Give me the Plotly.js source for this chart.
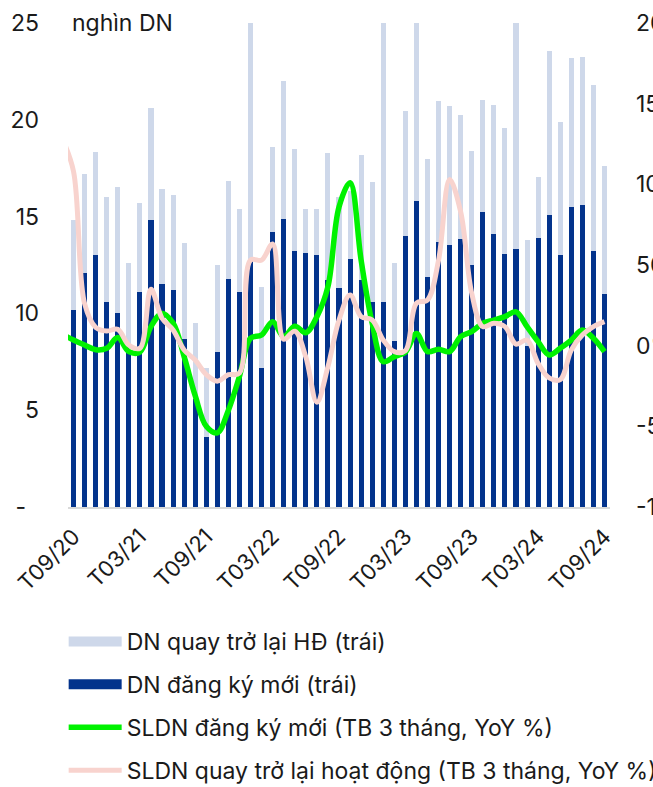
<!DOCTYPE html>
<html>
<head>
<meta charset="utf-8">
<script src="https://cdn.plot.ly/plotly-3.0.1.min.js"></script>
<style>
  html, body { margin: 0; padding: 0; background: #ffffff; overflow: hidden; }
  #chart { width: 653px; height: 787px; }
</style>
</head>
<body>
<div id="chart"></div>
<script>
// Months (T08/20 only carries the 3-month YoY lines, it sits just left of the plot)
const months = [
  'T08/20','T09/20','T10/20','T11/20','T12/20',
  'T01/21','T02/21','T03/21','T04/21','T05/21','T06/21','T07/21','T08/21','T09/21','T10/21','T11/21','T12/21',
  'T01/22','T02/22','T03/22','T04/22','T05/22','T06/22','T07/22','T08/22','T09/22','T10/22','T11/22','T12/22',
  'T01/23','T02/23','T03/23','T04/23','T05/23','T06/23','T07/23','T08/23','T09/23','T10/23','T11/23','T12/23',
  'T01/24','T02/24','T03/24','T04/24','T05/24','T06/24','T07/24','T08/24','T09/24'
];

// DN đăng ký mới (nghìn DN)
const newFirms = [
  null, 10.2, 12.1, 13.0, 10.6,
  10.0, 8.0, 11.1, 14.8, 11.5, 11.2, 8.7, 5.6, 3.6, 8.0, 11.8, 11.1,
  12.8, 7.2, 14.2, 14.9, 13.2, 13.1, 13.0, 11.7, 11.3, 12.8, 11.7, 10.6,
  10.6, 8.6, 14.0, 15.8, 11.9, 13.7, 13.55, 13.85, 12.5, 15.25, 14.1, 13.05,
  13.35, 8.3, 13.9, 15.1, 13.0, 15.5, 15.6, 13.2, 11.0
];

// DN quay trở lại HĐ (nghìn DN), stacked on top
const returningFirms = [
  null, 4.6, 5.1, 5.35, 5.4,
  6.55, 4.6, 4.6, 5.8, 4.95, 4.9, 4.95, 3.9, 3.6, 4.5, 5.05, 4.3,
  12.8, 4.15, 4.4, 7.1, 5.3, 2.3, 2.4, 6.6, 4.7, 3.5, 6.5, 6.2,
  15.0, 4.0, 6.45, 9.8, 6.1, 7.25, 7.15, 6.4, 5.9, 5.75, 6.65, 6.55,
  12.25, 5.5, 3.15, 8.45, 6.9, 7.7, 7.65, 8.6, 6.6
];

// SLDN đăng ký mới (TB 3 tháng, YoY %)
const newYoY = [
  7, 3.5, 0.4, -2.5, -1.6,
  5, -3.7, -4, 11.8, 20, 14, -6.8, -31, -50, -54, -40, -19,
  4.6, 6.6, 14.9, 5.6, 12, 8, 18, 36.6, 86, 101, 53, 13.9,
  -9.9, -6.8, -4, 7.6, -3.7, -2.2, -3.7, 5.6, 8.7, 13.9, 15.9, 18,
  21, 11.8, 2.5, -5.8, -1.6, 3.5, 9.7, 4.6, -3.7
];

// SLDN quay trở lại hoạt động (TB 3 tháng, YoY %)
const returningYoY = [
  128, 108, 26, 11.4, 9.1,
  10.1, 0.4, -1.6, 35, 17, 9.7, -2.7, -8.9, -18, -22, -18, -17,
  53, 53, 63, 4, 9, -7, -35, -13, 15.9, 31.4, 18, 15.9,
  3.5, -3.7, -3, 26.3, 28.3, 53, 103, 83, 32.5, 11.8, 13.9, 11.8,
  1, 3.5, -11, -20, -21, -2.7, 6.6, 11.8, 14.9
];

const xTicks = ['T09/20','T03/21','T09/21','T03/22','T09/22','T03/23','T09/23','T03/24','T09/24'];
const leftTickVals = [0, 5, 10, 15, 20, 25];
const leftTickText = ['-\u00a0\u00a0', '5', '10', '15', '20', '25'];
const rightTickVals = [-100, -50, 0, 50, 100, 150, 200];
const rightTickText = ['-100%', '-50%', '0%', '50%', '100%', '150%', '200%'];

const FONT = 'Inter, "Noto Sans", Arial, sans-serif';
const TXT = '#1a1a1a';
const C_NEW = '#03338C';
const C_RET = '#CED8EA';
const C_GREEN = '#00F200';
const C_PINK = '#F8D3CE';

const traces = [
  {
    type: 'bar', x: months, y: newFirms, name: 'DN đăng ký mới (trái)',
    marker: { color: C_NEW }, showlegend: false
  },
  {
    type: 'bar', x: months, y: returningFirms, name: 'DN quay trở lại HĐ (trái)',
    marker: { color: C_RET }, showlegend: false
  },
  {
    type: 'scatter', mode: 'lines', x: months, y: newYoY, yaxis: 'y2',
    name: 'SLDN đăng ký mới (TB 3 tháng, YoY %)',
    line: { color: C_GREEN, width: 5.5, shape: 'spline', smoothing: 1 },
    legendgroup: 'c', legendrank: 3
  },
  {
    type: 'scatter', mode: 'lines', x: months, y: returningYoY, yaxis: 'y2',
    name: 'SLDN quay trở lại hoạt động (TB 3 tháng, YoY %)',
    line: { color: C_PINK, width: 5, shape: 'spline', smoothing: 1 },
    legendgroup: 'd', legendrank: 4
  },
  // legend swatches for the two bar series (wide blocks as in the reference)
  {
    type: 'scatter', mode: 'lines', x: [null], y: [null],
    name: 'DN quay trở lại HĐ (trái)',
    line: { color: C_RET, width: 17 }, legendgroup: 'a', legendrank: 1
  },
  {
    type: 'scatter', mode: 'lines', x: [null], y: [null],
    name: 'DN đăng ký mới (trái)',
    line: { color: C_NEW, width: 17 }, legendgroup: 'b', legendrank: 2
  }
];

const layout = {
  width: 653, height: 787,
  margin: { l: 68, r: 43, t: 23, b: 280, pad: 0, autoexpand: false },
  paper_bgcolor: '#ffffff', plot_bgcolor: '#ffffff',
  font: { family: FONT, size: 23, color: TXT },
  barmode: 'stack', bargap: 0.54,
  showlegend: true,
  legend: {
    x: -0.008, y: -0.2335, xanchor: 'left', yanchor: 'top',
    traceorder: 'grouped', tracegroupgap: 10, itemwidth: 53,
    font: { family: FONT, size: 23, color: TXT },
    bgcolor: 'rgba(0,0,0,0)'
  },
  xaxis: {
    type: 'category', categoryorder: 'array', categoryarray: months,
    range: [0.5, 49.5], tickmode: 'array', tickvals: xTicks, ticktext: xTicks,
    tickangle: -45, ticks: '', showgrid: false, zeroline: false,
    showline: true, linecolor: '#D9D9D9', linewidth: 2,
    ticklabelstandoff: 6, automargin: false,
    tickfont: { family: FONT, size: 22, color: TXT }
  },
  yaxis: {
    range: [0, 25], tickmode: 'array', tickvals: leftTickVals, ticktext: leftTickText,
    showgrid: false, zeroline: false, showline: false, ticks: '',
    ticklabelstandoff: 28, automargin: false,
    tickfont: { family: FONT, size: 23, color: TXT }
  },
  yaxis2: {
    overlaying: 'y', side: 'right', range: [-100, 200],
    tickmode: 'array', tickvals: rightTickVals, ticktext: rightTickText,
    showgrid: false, zeroline: false, showline: false, ticks: '',
    ticklabelstandoff: 25, automargin: false,
    tickfont: { family: FONT, size: 23, color: TXT }
  },
  annotations: [
    {
      text: 'nghìn DN', xref: 'paper', yref: 'paper', x: 0.004, y: 1,
      xanchor: 'left', yanchor: 'middle', showarrow: false,
      font: { family: FONT, size: 23, color: TXT }
    }
  ]
};

Plotly.newPlot('chart', traces, layout, { staticPlot: true, displayModeBar: false });
</script>
</body>
</html>
